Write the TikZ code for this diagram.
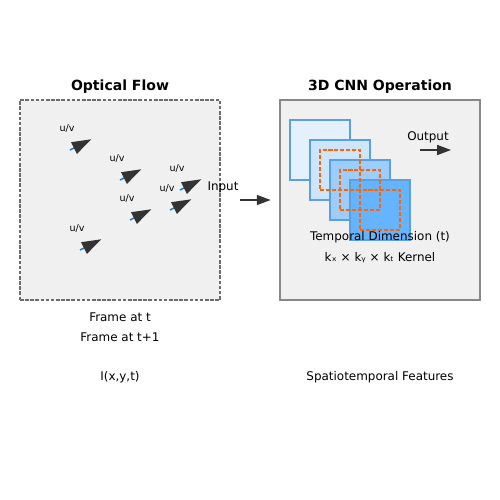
\documentclass[tikz,border=0pt]{standalone}
\usepackage{fontspec}
\setmainfont{DejaVu Sans}
\usetikzlibrary{arrows.meta}
\definecolor{panelgray}{HTML}{F0F0F0}
\definecolor{dashgray}{HTML}{6C6C6C}
\definecolor{boxgray}{HTML}{888888}
\definecolor{arrowdark}{HTML}{333333}
\definecolor{flowblue}{HTML}{1F78D0}
\definecolor{frameline}{HTML}{5A9FE0}
\definecolor{frameA}{HTML}{E4F1FD}
\definecolor{frameB}{HTML}{CDE5FD}
\definecolor{frameC}{HTML}{9ECCFB}
\definecolor{frameD}{HTML}{66B3FF}
\definecolor{kernelorange}{HTML}{FF6600}

\begin{document}
\begin{tikzpicture}[x=0.72pt, y=-0.72pt, node distance={14.4pt},
    title/.style = {font=\fontsize{10.1}{12}\selectfont\bfseries},
    txt/.style = {font=\fontsize{8.6}{10}\selectfont},
    uv/.style = {font=\fontsize{6.9}{8}\selectfont},
    flowpanel/.style = {draw=dashgray, fill=panelgray, line width=1pt, dash pattern=on 2.6pt off 1.1pt, minimum size=144pt, inner sep=0pt},
    cnnpanel/.style = {draw=boxgray, fill=panelgray, line width=0.9pt, minimum size=144pt, inner sep=0pt},
    framebox/.style = {draw=frameline, line width=1pt, minimum size=43.2pt, inner sep=0pt},
    kernelbox/.style = {draw=kernelorange, line width=1.1pt, dash pattern=on 2.9pt off 1.4pt, minimum size=28.8pt, inner sep=0pt},
    flow/.style = {draw=flowblue, line width=1.1pt, -{Triangle[length=14.1pt, width=9.1pt, color=arrowdark]}},
    link/.style = {draw=arrowdark, line width=1.1pt, -{Triangle[length=10pt, width=7.2pt]}}]
    \useasboundingbox (0,0) rectangle (500,500);
    % panels
    \node[title] (flowtitle) at (120,86.5) {Optical Flow};
    \node[title] (cnntitle) at (380,86.5) {3D CNN Operation};
    \node[flowpanel] (flowbox) at (120,200) {};
    \node[cnnpanel] (cnnbox) at (380,200) {};
    % flow vectors
    \coordinate (f1) at (70,150);
    \coordinate (g1) at (91.5,139.25);
    \coordinate (f2) at (120,180);
    \coordinate (g2) at (141.5,169.25);
    \coordinate (f3) at (180,190);
    \coordinate (g3) at (201.5,179.25);
    \coordinate (f4) at (170,210);
    \coordinate (g4) at (191.5,199.25);
    \coordinate (f5) at (130,220);
    \coordinate (g5) at (151.5,209.25);
    \coordinate (f6) at (80,250);
    \coordinate (g6) at (101.5,239.25);
    \draw[flow] (f1) -- (g1);
    \draw[flow] (f2) -- (g2);
    \draw[flow] (f3) -- (g3);
    \draw[flow] (f4) -- (g4);
    \draw[flow] (f5) -- (g5);
    \draw[flow] (f6) -- (g6);
    \node[uv] (uv1) at (67,128) {u/v};
    \node[uv] (uv2) at (117,158) {u/v};
    \node[uv] (uv3) at (177,168) {u/v};
    \node[uv] (uv4) at (167,188) {u/v};
    \node[uv] (uv5) at (127,198) {u/v};
    \node[uv] (uv6) at (77,228) {u/v};
    % frames and kernels
    \node[framebox, fill=frameA] (fr1) at (320,150) {};
    \node[framebox, fill=frameB] (fr2) at (340,170) {};
    \node[framebox, fill=frameC] (fr3) at (360,190) {};
    \node[framebox, fill=frameD] (fr4) at (380,210) {};
    \node[kernelbox] (k1) at (340,170) {};
    \node[kernelbox] (k2) at (360,190) {};
    \node[kernelbox] (k3) at (380,210) {};
    % arrows
    \coordinate (inA) at (240,200);
    \coordinate (inB) at (270.7,200);
    \coordinate (outA) at (420,150);
    \coordinate (outB) at (451,150);
    \draw[link] (inA) -- (inB);
    \draw[link] (outA) -- (outB);
    \node[txt] (input) at (223,187.5) {Input};
    \node[txt] (output) at (428,137.5) {Output};
    % labels
    \node[txt] (temporal) at (380,237.5) {Temporal Dimension (t)};
    \node[txt, below of=temporal] (kernel) {kₓ × kᵧ × kₜ Kernel};
    \node[txt] (framet) at (120,317.5) {Frame at t};
    \node[txt, below of=framet] (framenext) {Frame at t+1};
    \node[txt] (intensity) at (120,377.5) {I(x,y,t)};
    \node[txt] (features) at (380,377.5) {Spatiotemporal Features};
\end{tikzpicture}
\end{document}
